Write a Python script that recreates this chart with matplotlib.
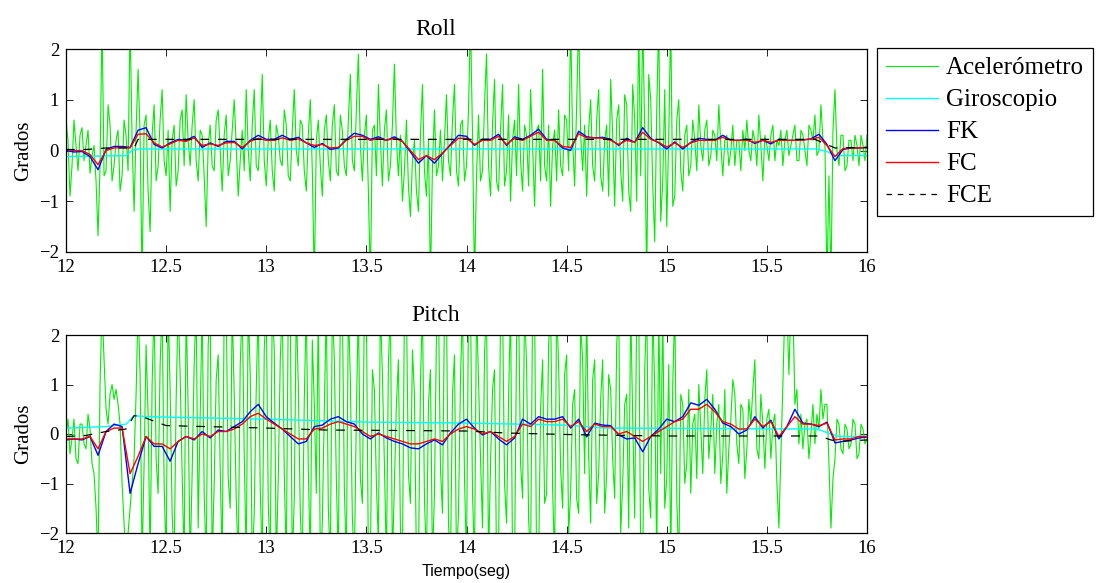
import numpy as np
import matplotlib
matplotlib.use("Agg")
import matplotlib.pyplot as plt

plt.rcParams['font.family'] = ['Liberation Serif', 'DejaVu Serif']
plt.rcParams['axes.unicode_minus'] = True

# accelerometer samples every 10 ms, filter outputs every 40 ms, from 12 s to 16 s

# ---- Roll ----
roll_acc = [
    0.6, 0.2, -0.9, -0.3, 0.6, 0.1, -0.4, 0.3, 0.45, -0.2, 0.1, 0.4, -0.45, -0.1, 0.1, -0.6, -1.68, -0.3, 2.6, -0.5,
    -0.4, 0.9, 0.5, -0.6, -0.3, 0.2, 0.4, -0.8, -0.5, 0.6, 0.3, -0.4, 2.6, 0.2, -1.2, 0.4, 1.6, 0.3, -2.6, 0.5,
    0.7, -0.8, -1.6, 0.3, 0.9, -0.6, -0.3, 0.6, 1.2, -0.2, -0.5, 0.4, -1.2, 0.2, 0.5, -0.7, -0.4, 0.6, 0.8, -0.3,
    1.1, 0.2, -0.3, 0.5, 1.0, -0.2, -0.6, 0.4, 0.3, -0.5, -1.5, 0.1, 0.5, -0.3, -0.4, 0.6, 0.8, 0.0, -0.8, 0.3,
    0.7, -0.5, -0.2, 0.4, 1.0, 0.1, -0.9, -0.2, 0.4, -0.4, 1.2, 0.0, -0.6, 0.5, 1.2, -0.3, -0.4, 0.3, 1.5, -0.2,
    -0.7, 0.2, 0.6, -0.4, -0.8, 0.5, 0.3, -0.2, -0.3, 0.8, 0.5, -0.5, -0.6, 0.4, 1.2, 0.0, -0.3, 0.6, 0.5, -0.4,
    -0.8, 0.3, 1.0, -0.4, -2.6, 0.2, 0.6, -0.3, -0.9, 0.4, 0.7, -0.2, -0.6, 0.5, 0.9, -0.4, -0.5, 0.7, 0.4, -0.3,
    -0.5, 0.6, 1.5, -0.2, -0.4, 0.8, 1.9, 0.1, -0.6, 0.3, 0.7, -0.8, -2.6, 0.4, 0.5, -0.5, 1.3, 0.2, -0.7, 0.4,
    0.8, -0.6, -0.3, 0.5, 1.7, 0.2, -0.5, 0.3, -1.0, -0.4, 0.6, -0.7, -1.3, -0.2, 0.2, -0.8, -1.2, 0.3, 1.3, -0.4,
    -0.9, 0.2, -2.6, -0.3, 0.8, -0.5, -0.3, 0.4, -0.6, 0.2, 1.1, -0.2, -0.5, 0.6, 1.3, -0.4, -0.7, 0.5, 0.6, -0.6,
    -0.3, 0.8, 2.6, 0.3, -2.6, -0.5, 0.7, -0.6, -0.4, 0.9, 1.9, -0.3, -0.9, 0.5, 1.4, -0.6, -0.8, 0.4, 1.3, -0.7,
    -0.4, 0.7, -1.0, 0.2, 0.6, -0.5, 1.3, -0.2, -0.8, 0.5, 0.3, -0.7, 1.2, 0.1, -1.1, 0.4, 0.5, -0.6, 1.6, -0.3,
    -0.6, 0.5, -1.1, 0.1, 0.4, -0.6, 0.8, -0.3, -0.5, 0.7, 0.6, -0.4, 2.6, 0.2, -0.7, 0.9, 2.6, 0.3, -0.4, 0.5,
    -0.9, 0.4, 1.0, -0.3, -0.6, 0.6, 1.2, -0.5, -0.8, 0.2, 0.5, -0.9, 1.4, 0.3, -1.1, 0.6, 0.9, -0.4, -1.0, 1.1,
    0.9, -0.8, -1.2, 1.3, 0.6, -1.0, 2.6, -0.5, 2.6, 0.4, -2.6, 1.5, 1.0, -0.7, -1.8, 0.8, 2.6, -1.4, -0.6, 1.2,
    -1.5, 0.3, 2.6, -1.1, -0.9, 0.6, 1.0, -0.4, -0.8, 0.3, 0.5, -0.5, -0.3, 0.6, 0.2, -0.4, 0.9, 0.1, -0.2, 0.4,
    0.6, -0.3, -0.1, 0.4, 0.3, -0.2, 0.9, 0.1, -0.5, 0.2, 0.3, -0.3, 0.0, 0.5, -0.3, 0.2, 0.2, -0.4, 0.4, 0.0,
    0.6, 0.0, -0.2, 0.4, 0.2, -0.3, 0.7, 0.1, -0.6, 0.3, 0.1, -0.2, 0.3, 0.5, -0.2, 0.2, 0.1, 0.4, -0.3, 0.2,
    0.4, -0.1, 0.1, 0.3, 0.5, -0.2, -0.2, 0.4, 0.3, 0.0, -0.3, 0.5, 0.4, 0.2, 0.7, -0.1, 0.0, 0.9, 0.2, 0.1,
    -2.6, -0.5, -2.6, 0.4, 1.2, 0.0, -0.3, 0.3, 0.3, -0.4, -0.3, 0.2, 0.2, -0.2, 0.3, 0.1, -0.3, 0.3, 0.1, -0.2,
    0.3,
]
roll_fk = [
    0.0, -0.03, -0.02, -0.12, -0.38, 0.02, 0.08, 0.08, 0.06, 0.4,
    0.45, 0.12, 0.05, 0.15, 0.22, 0.2, 0.28, 0.06, 0.15, 0.08,
    0.18, 0.18, 0.03, 0.2, 0.3, 0.22, 0.22, 0.3, 0.22, 0.26,
    0.15, 0.06, 0.14, 0.02, 0.05, 0.22, 0.34, 0.3, 0.22, 0.27,
    0.2, 0.27, 0.18, -0.03, -0.25, -0.1, -0.25, -0.06, 0.12, 0.3,
    0.28, 0.1, 0.22, 0.22, 0.32, 0.1, 0.27, 0.22, 0.3, 0.42,
    0.22, 0.2, 0.05, 0.0, 0.38, 0.27, 0.25, 0.26, 0.22, 0.1,
    0.24, 0.16, 0.45, 0.24, 0.15, 0.03, 0.17, 0.03, 0.16, 0.24,
    0.22, 0.2, 0.3, 0.2, 0.2, 0.22, 0.14, 0.2, 0.13, 0.22,
    0.2, 0.2, 0.21, 0.23, 0.32, 0.12, -0.2, 0.02, 0.05, 0.05,
    0.06,
]
roll_fc = [
    0.02, 0.0, 0.0, -0.08, -0.28, 0.0, 0.05, 0.06, 0.05, 0.32,
    0.33, 0.15, 0.07, 0.13, 0.2, 0.18, 0.25, 0.1, 0.13, 0.1,
    0.15, 0.16, 0.06, 0.18, 0.24, 0.2, 0.2, 0.25, 0.2, 0.23,
    0.15, 0.1, 0.12, 0.05, 0.06, 0.2, 0.28, 0.28, 0.2, 0.24,
    0.2, 0.24, 0.18, 0.0, -0.18, -0.1, -0.18, -0.05, 0.1, 0.24,
    0.24, 0.12, 0.2, 0.2, 0.28, 0.12, 0.24, 0.2, 0.28, 0.36,
    0.2, 0.2, 0.08, 0.06, 0.33, 0.25, 0.25, 0.24, 0.2, 0.12,
    0.2, 0.16, 0.36, 0.22, 0.16, 0.07, 0.15, 0.06, 0.15, 0.2,
    0.2, 0.2, 0.26, 0.2, 0.2, 0.2, 0.16, 0.2, 0.16, 0.2,
    0.2, 0.2, 0.21, 0.22, 0.26, 0.1, -0.12, 0.04, 0.05, 0.05,
    0.06,
]
roll_gyro_t = [12.0, 12.3, 12.33, 12.36, 15.75, 15.8, 15.84, 16.0]
roll_gyro = [-0.12, -0.1, 0.0, 0.03, 0.03, -0.02, -0.1, -0.1]
roll_fce_t = [12.0, 12.1, 12.2, 12.34, 12.36, 15.74, 15.78, 15.84, 16.0]
roll_fce = [0.02, 0.02, 0.05, 0.05, 0.22, 0.22, 0.15, 0.05, 0.06]

# ---- Pitch ----
pitch_acc = [
    0.0, 0.3, -0.4, -0.1, 0.3, -0.5, -0.6, 0.2, 0.2, -0.2, -0.3, 0.4, 0.1, -0.6, -0.8, -1.5, -2.6, 1.0, 2.6, 1.5,
    0.5, 0.2, 0.8, 1.0, 0.7, 0.9, 0.6, 0.2, -1.0, -1.8, -2.6, -2.0, -1.5, -1.0, -0.5, 0.8, 2.6, 1.2, -2.6, -0.6,
    1.8, 0.4, -2.6, 1.0, 2.6, -0.5, -1.2, 1.4, 2.6, -1.0, -2.6, 2.6, 0.9, -1.6, -2.6, 0.7, 2.6, 1.2, -0.8, -2.6,
    2.6, 0.5, -2.6, -0.8, 1.4, 2.6, -1.9, 0.3, 2.6, -1.2, -2.6, 1.8, 2.6, -2.6, -1.0, 1.1, 1.6, -0.7, -2.6, 2.6,
    2.6, -0.9, -1.5, 2.6, 0.8, -1.3, -2.6, 1.4, 2.6, -0.4, -2.6, 2.6, 1.2, -2.6, -1.6, 0.9, 2.6, -1.1, -2.6, 1.7,
    2.6, -1.4, -2.6, 2.6, 1.7, -2.6, -0.9, 1.5, 2.6, -0.8, -2.6, 2.6, 2.6, -2.6, -1.3, 2.6, 1.0, -1.6, -2.6, 0.7,
    2.6, -0.7, -2.6, 1.9, 0.6, -1.2, 2.6, -2.6, -1.8, 0.5, 2.6, -1.5, -2.6, 2.6, 1.5, -0.9, -2.6, 2.6, 2.6, -1.1,
    -2.6, 2.6, 1.1, -1.7, -2.6, 0.4, 2.6, -0.9, -1.4, 2.6, 2.6, -2.6, -2.6, 1.3, 0.9, -1.0, -2.2, 2.6, 1.2, -0.6,
    -2.6, 1.4, 2.6, -2.6, -1.0, 0.6, 1.5, -1.9, -2.6, 2.6, 2.6, -0.8, -1.4, 1.7, 0.8, -2.6, -2.6, 1.0, 2.6, -1.3,
    -2.6, 0.6, 1.3, -2.6, -1.2, 2.0, 2.6, -0.7, -1.6, 2.6, 2.6, -1.8, -2.6, 0.8, 1.6, -2.6, -1.6, 1.1, 2.6, -0.9,
    -2.6, 2.6, 2.6, -1.2, -2.6, 2.6, 1.1, -0.5, -1.9, 1.6, 2.6, -2.6, -0.6, 0.9, 1.3, -2.6, -2.6, 2.6, 2.6, -1.0,
    -1.8, 0.7, 2.6, -2.6, -2.6, 1.9, 2.6, -0.6, -1.3, 2.6, 1.4, -1.7, -2.6, 2.6, 2.6, -2.6, -2.6, 0.5, 1.5, -1.4,
    -1.2, 1.8, 2.6, -1.1, -2.6, 2.6, 1.4, -0.7, -1.5, 1.2, 1.6, -2.0, -1.2, 0.6, 0.9, -1.3, -1.6, 2.2, 1.5, -0.8,
    2.6, -0.4, -1.8, 1.1, 1.5, -1.4, -0.8, 0.7, 1.5, -1.6, -0.8, 1.2, 0.9, -0.5, -1.3, 1.8, 2.6, -2.0, -1.0, 0.6,
    0.8, -1.9, 2.6, 0.3, -1.7, 2.6, 2.6, -2.6, -2.6, 1.3, 2.6, -1.1, -1.7, 2.6, 0.9, -2.6, 2.6, -0.8, 2.6, -1.5,
    -0.9, 1.4, -2.6, 1.0, 2.6, -1.3, -2.6, 0.8, 0.6, -1.0, -0.6, 0.9, -1.2, 0.2, 0.4, -0.9, 1.0, 0.1, -0.8, 0.7,
    1.3, -0.5, 0.1, 0.8, -0.8, 0.2, 0.6, -1.0, -0.4, 0.9, -1.2, -0.3, 0.3, 1.1, 0.8, -0.2, -0.6, 0.6, 0.5, -0.9,
    -0.3, 0.7, 0.2, 0.9, 1.5, -0.3, -0.5, 0.8, 0.2, -0.7, 0.3, 0.5, -0.5, 0.2, 0.4, -1.0, -1.9, -0.4, 1.0, 2.6,
    2.6, 1.2, 2.6, 2.6, 0.6, 0.9, -0.2, 0.4, -0.3, 0.2, 0.3, -0.5, 0.0, 0.6, -0.2, 0.4, 0.1, 0.9, 0.3, 0.6,
    0.6, -0.6, -1.9, -0.9, -0.5, 0.3, 0.2, -0.3, -0.4, 0.2, 0.1, -0.3, -0.2, 0.3, 0.2, -0.5, -0.4, 0.2, 0.1, -0.2,
    -0.1,
]
pitch_fk = [
    -0.12, -0.1, -0.12, -0.05, -0.43, 0.05, 0.2, 0.15, -1.2, -0.6,
    -0.05, -0.25, -0.25, -0.55, -0.15, -0.05, -0.12, 0.05, -0.08, 0.08,
    0.05, 0.15, 0.25, 0.45, 0.6, 0.35, 0.22, 0.1, -0.05, -0.2,
    -0.15, 0.15, 0.18, 0.3, 0.35, 0.25, 0.2, 0.0, -0.1, 0.02,
    -0.08, -0.15, -0.2, -0.28, -0.3, -0.2, -0.12, -0.22, 0.02, 0.2,
    0.3, 0.12, -0.02, 0.05, -0.1, -0.22, -0.08, 0.3, 0.2, 0.35,
    0.3, 0.3, 0.35, 0.12, 0.3, -0.06, 0.22, 0.18, 0.17, -0.02,
    -0.1, -0.08, -0.36, -0.05, 0.1, 0.3, 0.25, 0.35, 0.63, 0.58,
    0.7, 0.5, 0.22, 0.15, 0.0, 0.08, 0.35, 0.12, 0.28, -0.1,
    0.15, 0.5, 0.22, 0.2, 0.15, 0.24, -0.18, -0.15, -0.12, -0.08,
    -0.06,
]
pitch_fc = [
    -0.1, -0.1, -0.1, -0.05, -0.3, 0.05, 0.12, 0.12, -0.8, -0.45,
    -0.05, -0.2, -0.2, -0.3, -0.15, -0.05, -0.1, 0.0, -0.05, 0.05,
    0.05, 0.1, 0.2, 0.35, 0.42, 0.3, 0.2, 0.1, 0.0, -0.1,
    -0.1, 0.1, 0.12, 0.2, 0.25, 0.2, 0.15, 0.05, -0.05, 0.0,
    -0.05, -0.1, -0.15, -0.2, -0.2, -0.15, -0.1, -0.15, 0.0, 0.1,
    0.15, 0.1, 0.0, 0.05, -0.05, -0.15, -0.05, 0.2, 0.15, 0.3,
    0.25, 0.25, 0.3, 0.15, 0.25, 0.05, 0.2, 0.15, 0.15, 0.0,
    0.05, -0.05, -0.15, -0.05, 0.05, 0.15, 0.25, 0.3, 0.5, 0.5,
    0.6, 0.45, 0.25, 0.2, 0.1, 0.1, 0.3, 0.15, 0.25, -0.05,
    0.15, 0.35, 0.2, 0.2, 0.17, 0.22, -0.12, -0.1, -0.1, -0.05,
    -0.05,
]
pitch_gyro_t = [12.0, 12.2, 12.3, 12.34, 12.4, 13.0, 13.5, 14.0, 14.5, 14.7, 15.75, 15.82, 15.86, 16.0]
pitch_gyro = [0.12, 0.15, 0.2, 0.37, 0.35, 0.3, 0.24, 0.22, 0.18, 0.12, 0.1, 0.0, -0.05, -0.05]
pitch_fce_t = [12.0, 12.1, 12.2, 12.3, 12.34, 12.38, 12.5, 12.8, 13.0, 13.3, 13.7, 14.0,
               14.2, 14.5, 14.8, 15.0, 15.76, 15.82, 15.86, 16.0]
pitch_fce = [-0.05, -0.03, 0.05, 0.1, 0.37, 0.35, 0.17, 0.14, 0.12, 0.08, 0.07, 0.06,
             0.02, -0.01, -0.03, -0.04, -0.04, -0.12, -0.15, -0.12]

labels = ['Acelerómetro', 'Giroscopio', 'FK', 'FC', 'FCE']


def draw(ax, acc, gyro_t, gyro, fk, fc, fce_t, fce, title):
    t_acc = np.linspace(12, 16, len(acc))
    t_filt = np.linspace(12, 16, len(fk))
    lines = []
    lines += ax.plot(t_acc, acc, color='#00ee00', lw=0.8)
    lines += ax.plot(gyro_t, gyro, color='#00ffff', lw=1.0)
    lines += ax.plot(t_filt, fk, color='#0000ff', lw=1.0)
    lines += ax.plot(t_filt, fc, color='#ff0000', lw=1.0)
    lines += ax.plot(fce_t, fce, color='k', lw=0.9, linestyle=(0, (7, 7)))
    ax.set_xlim(12, 16)
    ax.set_ylim(-2, 2)
    ax.set_xticks([12, 12.5, 13, 13.5, 14, 14.5, 15, 15.5, 16])
    ax.set_xticklabels(['12', '12.5', '13', '13.5', '14', '14.5', '15', '15.5', '16'])
    ax.set_yticks([-2, -1, 0, 1, 2])
    ax.tick_params(direction='in', length=5, width=0.6, top=True, right=True,
                   labelsize=13.5, pad=5)
    ax.tick_params(axis='x', pad=5)
    for s in ax.spines.values():
        s.set_linewidth(0.9)
    ax.set_ylabel('Grados', fontsize=15, labelpad=4)
    ax.set_title(title, fontsize=17, x=0.461, pad=10)
    return lines


fig = plt.figure(figsize=(10.96, 5.83), dpi=100)
ax1 = fig.add_axes([66 / 1096, 1 - 252 / 583, 801 / 1096, 203 / 583])
ax2 = fig.add_axes([66 / 1096, 1 - 533 / 583, 801 / 1096, 198 / 583])

handles = draw(ax1, roll_acc, roll_gyro_t, roll_gyro, roll_fk, roll_fc, roll_fce_t, roll_fce, 'Roll')
draw(ax2, pitch_acc, pitch_gyro_t, pitch_gyro, pitch_fk, pitch_fc, pitch_fce_t, pitch_fce, 'Pitch')
ax2.set_xlabel('Tiempo(seg)', family=['Liberation Sans', 'DejaVu Sans'], fontsize=11.5, labelpad=5)

leg = fig.legend(handles, labels, loc='upper left', bbox_to_anchor=(877 / 1096, 1 - 48 / 583),
                 borderaxespad=0, fancybox=False, edgecolor='k', framealpha=1, fontsize=18,
                 handlelength=2.1, handletextpad=0.3, labelspacing=0.38, borderpad=0.35)
leg.get_frame().set_linewidth(0.9)
# shorter dashes on the legend key so it shows three of them
leg.get_lines()[4].set_linestyle((0, (4.5, 4.5)))

fig.savefig('out.png', dpi=100)
